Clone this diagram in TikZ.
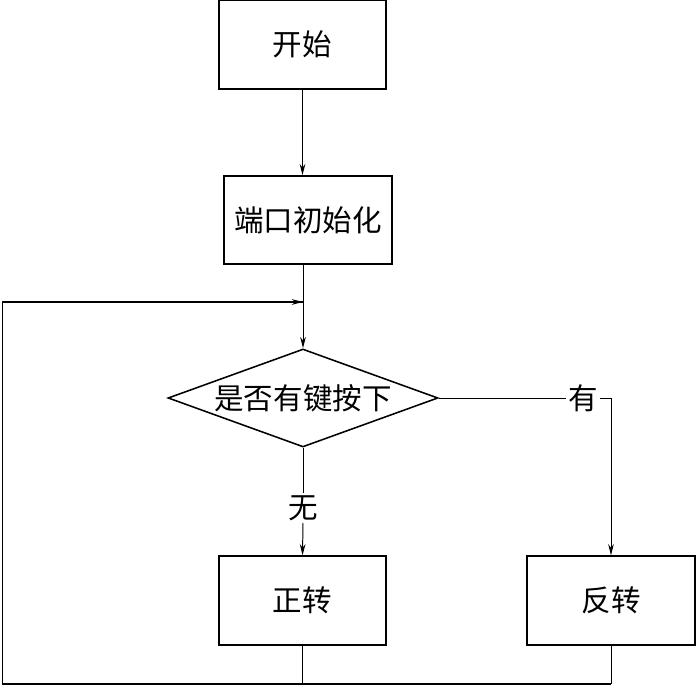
\documentclass[tikz,border=0pt]{standalone}
\usepackage{fontspec}
\newfontfamily\cjk{Noto Sans CJK SC}
\usetikzlibrary{
    shapes.geometric,
    arrows.meta,
    positioning,
    calc,
}

\begin{document}
\begin{tikzpicture}[
    stepbox/.style={rectangle, draw, line width=1.1pt, minimum width=4.17cm, minimum height=2.22cm, font=\cjk\fontsize{21}{24}\selectfont},
    askbox/.style={diamond, draw, line width=1.1pt, inner sep=0pt, aspect=2.75, minimum width=6.75cm, minimum height=2.45cm, font=\cjk\fontsize{21}{24}\selectfont},
    lbl/.style={inner sep=1.5pt, font=\cjk\fontsize{21}{24}\selectfont},
    flow/.style={-{Stealth[length=8pt, width=4pt]}, line width=0.7pt},
    plain/.style={line width=0.7pt},
    loop/.style={line width=1.1pt}
]
    \useasboundingbox (0, 0) rectangle (17.4, 17.15);
    \node[stepbox] (start) at (7.5625, 16.04) {开始};
    \node[stepbox, minimum width=4.2cm, minimum height=2.2cm] (init) at (7.7, 11.65) {端口初始化};
    \node[askbox] (ask) at (7.575, 7.2) {是否有键按下};
    \node[lbl] (yes) at (14.575, 7.2) {有};
    \node[lbl] (no) at (7.575, 4.45) {无};
    \node[stepbox] (fwd) at (7.5625, 2.1375) {正转};
    \node[stepbox, minimum width=4.2cm] (rev) at (15.275, 2.1375) {反转};
    \coordinate (loopbl) at (0.0625, 0.05);
    \coordinate (looptl) at (0.0625, 9.6);
    \coordinate (merge) at (7.575, 9.6);
    \draw[flow] (start.south) -- (start.south |- init.north);
    \draw[flow] (ask.north |- init.south) -- (ask.north);
    \draw[plain] (ask.east) -- (yes.west);
    \draw[flow] (yes.east) -| (rev.north);
    \draw[plain] (ask.south) -- (no.north);
    \draw[flow] (no.south) -- (fwd.north);
    \draw[plain] (fwd.south) -- (fwd.south |- loopbl);
    \draw[plain] (rev.south) -- (rev.south |- loopbl);
    \draw[loop] (rev.south |- loopbl) -- (loopbl) -- (looptl) -- (merge);
    \draw[flow] ($(merge)+(-0.5,0)$) -- (merge);
\end{tikzpicture}
\end{document}
